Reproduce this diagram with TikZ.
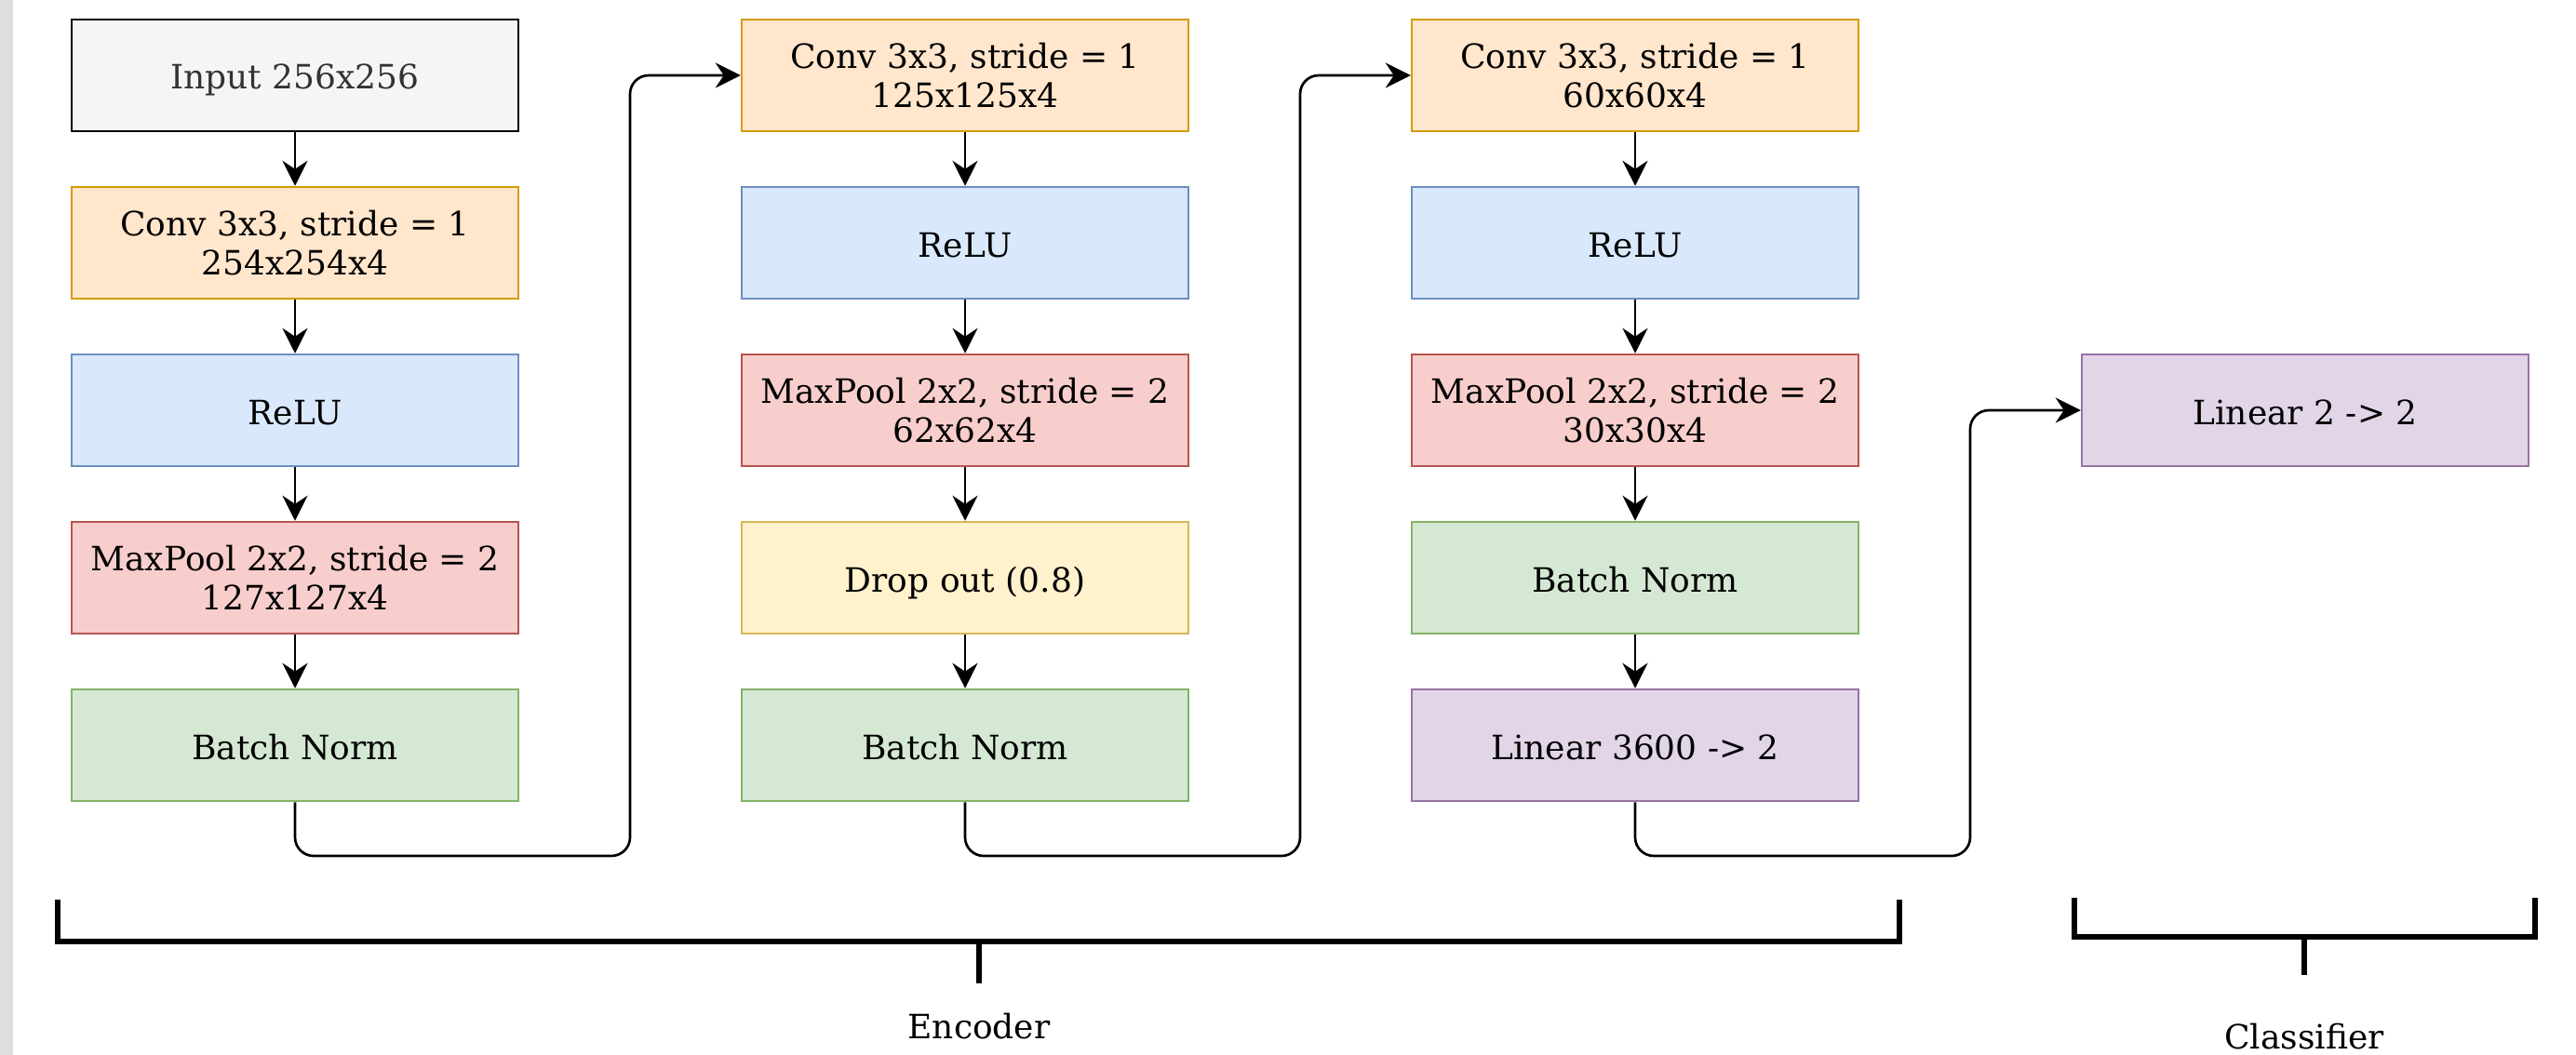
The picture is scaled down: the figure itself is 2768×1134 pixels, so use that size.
\documentclass[tikz,border=0pt]{standalone}
\usepackage{fontspec}
\setmainfont{DejaVu Serif}
\usetikzlibrary{arrows.meta}
\definecolor{inFill}{HTML}{F5F5F5}
\definecolor{inText}{HTML}{333333}
\definecolor{convFill}{HTML}{FFE6CC}\definecolor{convDraw}{HTML}{D79B00}
\definecolor{reluFill}{HTML}{DAE8FC}\definecolor{reluDraw}{HTML}{6C8EBF}
\definecolor{poolFill}{HTML}{F8CECC}\definecolor{poolDraw}{HTML}{B85450}
\definecolor{bnFill}{HTML}{D5E8D4}\definecolor{bnDraw}{HTML}{82B366}
\definecolor{dropFill}{HTML}{FFF2CC}\definecolor{dropDraw}{HTML}{D6B656}
\definecolor{linFill}{HTML}{E1D5E7}\definecolor{linDraw}{HTML}{9673A6}
\definecolor{stripGrey}{HTML}{DEDEDE}
\begin{document}
\begin{tikzpicture}[x=1pt,y=-1pt,
  box/.style={rectangle, minimum width=480pt, minimum height=120pt, inner sep=0pt,
    line width=2.5pt, align=center, font=\fontsize{36}{42}\selectfont},
  one/.style={align=none, text height=30pt, text depth=0pt},
  inbox/.style={box, fill=inFill, draw=black, text=inText},
  convbox/.style={box, fill=convFill, draw=convDraw},
  relubox/.style={box, fill=reluFill, draw=reluDraw},
  poolbox/.style={box, fill=poolFill, draw=poolDraw},
  bnbox/.style={box, fill=bnFill, draw=bnDraw},
  dropbox/.style={box, fill=dropFill, draw=dropDraw},
  linbox/.style={box, fill=linFill, draw=linDraw},
  flow/.style={line width=2.7pt, -{Stealth[length=27pt,width=27pt,inset=9pt]}},
  link/.style={flow, rounded corners=20pt},
  brace/.style={line width=5.5pt},
  lbl/.style={font=\fontsize{36}{42}\selectfont, inner sep=0pt}
]
\useasboundingbox (0,0) rectangle (2768,1134);
\fill[white] (0,0) rectangle (2768,1134);
\fill[stripGrey] (0,0) rectangle (14,1134);

% column 1
\node[inbox,one]   (a1) at (317,81)  {Input 256x256};
\node[convbox] (a2) at (317,261) {Conv 3x3, stride = 1\\254x254x4};
\node[relubox,one] (a3) at (317,441) {ReLU};
\node[poolbox] (a4) at (317,621) {MaxPool 2x2, stride = 2\\127x127x4};
\node[bnbox,one]   (a5) at (317,801) {Batch Norm};
% column 2
\node[convbox] (b1) at (1037,81)  {Conv 3x3, stride = 1\\125x125x4};
\node[relubox,one] (b2) at (1037,261) {ReLU};
\node[poolbox] (b3) at (1037,441) {MaxPool 2x2, stride = 2\\62x62x4};
\node[dropbox,one] (b4) at (1037,621) {Drop out (0.8)};
\node[bnbox,one]   (b5) at (1037,801) {Batch Norm};
% column 3
\node[convbox] (c1) at (1757,81)  {Conv 3x3, stride = 1\\60x60x4};
\node[relubox,one] (c2) at (1757,261) {ReLU};
\node[poolbox] (c3) at (1757,441) {MaxPool 2x2, stride = 2\\30x30x4};
\node[bnbox,one]   (c4) at (1757,621) {Batch Norm};
\node[linbox,one]  (c5) at (1757,801) {Linear 3600 -> 2};
% column 4
\node[linbox,one]  (d1) at (2477,441) {Linear 2 -> 2};

\foreach \u/\v in {a1/a2,a2/a3,a3/a4,a4/a5,b1/b2,b2/b3,b3/b4,b4/b5,c1/c2,c2/c3,c3/c4,c4/c5}
  \draw[flow] (\u) -- (\v);

\draw[link] (a5.south) -- (317,920) -- (677,920) -- (677,81) -- (b1.west);
\draw[link] (b5.south) -- (1037,920) -- (1397,920) -- (1397,81) -- (c1.west);
\draw[link] (c5.south) -- (1757,920) -- (2117,920) -- (2117,441) -- (d1.west);

% braces
\coordinate (e1) at (62,967);
\coordinate (e2) at (2041,967);
\draw[brace] (e1) -- (62,1012) -- (2041,1012) -- (e2);
\draw[brace] (1052,1012) -- (1052,1057);
\node[lbl] (enc) at (1052,1103) {Encoder};

\coordinate (k1) at (2229,965);
\coordinate (k2) at (2724,965);
\draw[brace] (k1) -- (2229,1007) -- (2724,1007) -- (k2);
\draw[brace] (2476,1007) -- (2476,1048);
\node[lbl] (cls) at (2476,1114) {Classifier};
\end{tikzpicture}
\end{document}
